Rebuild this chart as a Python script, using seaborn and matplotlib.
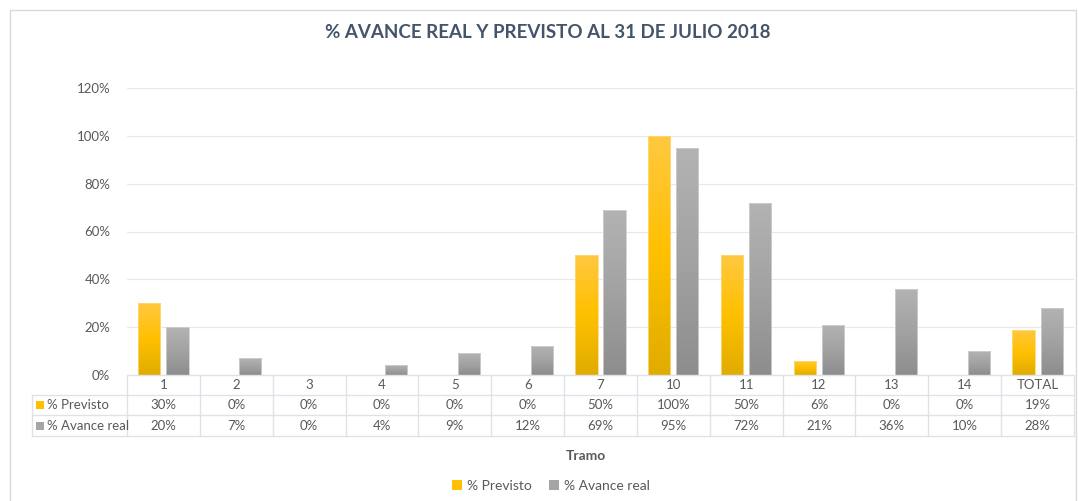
import numpy as np
import pandas as pd
import matplotlib
matplotlib.use("Agg")
import matplotlib.pyplot as plt
import seaborn as sns
from matplotlib.colors import LinearSegmentedColormap, to_hex
from matplotlib.patches import Rectangle, Patch
from matplotlib.lines import Line2D

# ---------------- data ----------------
tramos = ["1", "2", "3", "4", "5", "6", "7", "10", "11", "12", "13", "14", "TOTAL"]
previsto = [30, 0, 0, 0, 0, 0, 50, 100, 50, 6, 0, 0, 19]
avance_real = [20, 7, 0, 4, 9, 12, 69, 95, 72, 21, 36, 10, 28]
series = ["% Previsto", "% Avance real"]
title = "% AVANCE REAL Y PREVISTO AL 31 DE JULIO 2018"
xlabel = "Tramo"
yticks = [0, 20, 40, 60, 80, 100, 120]

df = pd.DataFrame({
    "Tramo": tramos * 2,
    "Serie": [series[0]] * len(tramos) + [series[1]] * len(tramos),
    "Valor": np.array(previsto + avance_real) / 100.0,
})

# ---------------- style ----------------
sns.set_theme(style="white")
plt.rcParams["font.family"] = ["Lato", "DejaVu Sans"]

W, H = 1078, 501
fig = plt.figure(figsize=(W / 100, H / 100), dpi=100)
fig.patch.set_facecolor("white")

ax_l, ax_r, ax_b, ax_t = 127, 1074, 375, 88
ax = fig.add_axes([ax_l / W, 1 - ax_b / H, (ax_r - ax_l) / W, (ax_b - ax_t) / H])

base_colors = {series[0]: "#FFC000", series[1]: "#A5A5A5"}
sns.barplot(data=df, x="Tramo", y="Valor", hue="Serie", order=tramos,
            hue_order=series, palette=base_colors, width=0.77, gap=0.21,
            saturation=1, linewidth=0, legend=False, ax=ax)

cmaps = {
    to_hex("#FFC000"): LinearSegmentedColormap.from_list(
        "y", [(0, "#E0AC00"), (0.5, "#FFC000"), (1, "#FFC840")]),
    to_hex("#A5A5A5"): LinearSegmentedColormap.from_list(
        "g", [(0, "#8D8D8D"), (0.5, "#A2A2A2"), (1, "#B3B3B3")]),
}
edge_cols = {to_hex("#FFC000"): "#FFD978", to_hex("#A5A5A5"): "#D0D0D0"}
grad = np.linspace(0, 1, 256).reshape(-1, 1)
for p in list(ax.patches):
    h = p.get_height()
    if h <= 0:
        continue
    fc = to_hex(p.get_facecolor())
    cm = cmaps.get(fc)
    if cm is None:
        continue
    x0 = p.get_x()
    w = p.get_width()
    im = ax.imshow(grad, cmap=cm, origin="lower", aspect="auto",
                   extent=(x0, x0 + w, 0, h), zorder=p.get_zorder() + 0.1)
    im.set_clip_path(p)
    ax.add_patch(Rectangle((x0, 0), w, h, fill=False, edgecolor=edge_cols[fc],
                           lw=0.6, zorder=p.get_zorder() + 0.2))

ax.set_xlim(-0.5, len(tramos) - 0.5)
ax.set_ylim(0, 1.2)
ax.set_yticks(np.array(yticks) / 100)
ax.set_yticklabels([f"{v}%" for v in yticks], color="#595959", fontsize=9.5)
ax.set_xticks([])
ax.set_xlabel("")
ax.set_ylabel("")
ax.tick_params(axis="y", length=0, pad=12)
ax.yaxis.grid(True, color="#E8E8E8", lw=0.9)
ax.set_axisbelow(True)
for s in ax.spines.values():
    s.set_visible(False)

# ---------------- data table ----------------
line_c = "#DFE3E8"
txt_c = "#595959"
ncat = len(tramos)
cw = (ax_r - ax_l) / ncat
rows_px = [375, 395, 415, 436]
left_px = 32


def fx(px):
    return px / W


def fy(py):
    return 1 - py / H


def hline(x0, x1, y):
    fig.add_artist(Line2D([fx(x0), fx(x1)], [fy(y), fy(y)], color=line_c, lw=1,
                          transform=fig.transFigure))


def vline(x, y0, y1):
    fig.add_artist(Line2D([fx(x), fx(x)], [fy(y0), fy(y1)], color=line_c, lw=1,
                          transform=fig.transFigure))


hline(ax_l, ax_r, rows_px[0])
for y in rows_px[1:]:
    hline(left_px, ax_r, y)
for i in range(ncat + 1):
    vline(ax_l + i * cw, rows_px[0], rows_px[3])
vline(left_px, rows_px[1], rows_px[3])

row_vals = [previsto, avance_real]
for i, t in enumerate(tramos):
    cx = ax_l + (i + 0.5) * cw
    fig.text(fx(cx), fy((rows_px[0] + rows_px[1]) / 2), t, ha="center", va="center",
             fontsize=9.5, color=txt_c)
    for r in range(2):
        fig.text(fx(cx), fy((rows_px[r + 1] + rows_px[r + 2]) / 2),
                 f"{row_vals[r][i]}%", ha="center", va="center", fontsize=9.5, color=txt_c)

for r, s in enumerate(series):
    yc = (rows_px[r + 1] + rows_px[r + 2]) / 2
    fig.add_artist(Rectangle((fx(36), fy(yc + 4)), 8 / W, 8 / H,
                             transform=fig.transFigure, facecolor=base_colors[s],
                             edgecolor="none"))
    fig.text(fx(47), fy(yc), s, ha="left", va="center", fontsize=9.5, color=txt_c)

# ---------------- titles / legend ----------------
fig.text(fx(548), fy(33), title, ha="center", va="center", fontsize=13.5,
         fontweight="bold", color="#44546A")
fig.text(fx(586), fy(456), xlabel, ha="center", va="center", fontsize=10,
         fontweight="bold", color=txt_c)

handles = [Patch(facecolor=base_colors[s], edgecolor="none", label=s) for s in series]
fig.legend(handles=handles, loc="center", bbox_to_anchor=(fx(551), fy(486)), ncol=2,
           frameon=False, fontsize=10, labelcolor=txt_c, handlelength=0.7,
           handleheight=0.7, handletextpad=0.4, columnspacing=1.2)

# chart frame
fig.add_artist(Rectangle((fx(10), -0.05), (1076 - 10) / W, fy(10) + 0.05,
                         transform=fig.transFigure, fill=False, edgecolor="#D9D9D9",
                         lw=1))

fig.savefig("out.png", dpi=100, facecolor="white")
